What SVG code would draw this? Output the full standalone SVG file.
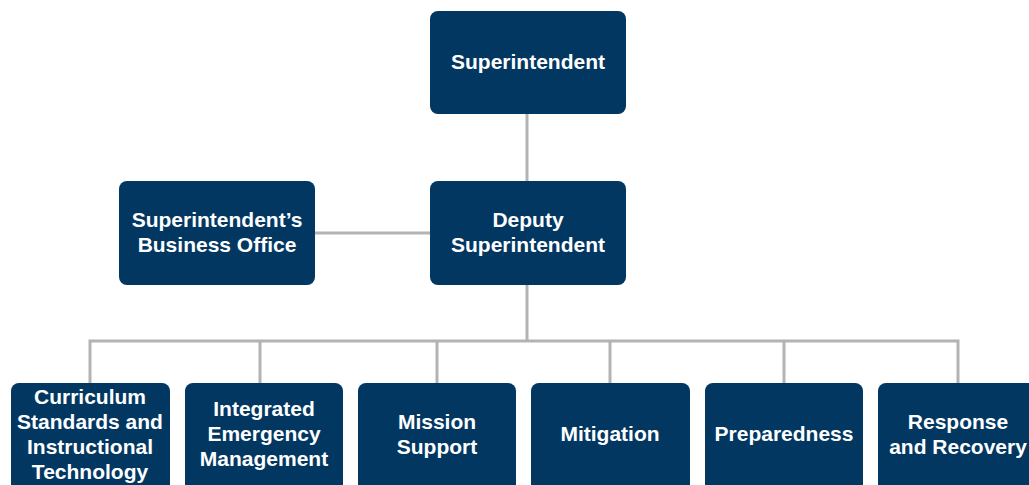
<svg xmlns="http://www.w3.org/2000/svg" width="1029" height="485" viewBox="0 0 1029 485">
<style>
.box{fill:#023762;}
.lbl{font-family:"Liberation Sans",Arial,sans-serif;font-weight:bold;font-size:21px;fill:#ffffff;text-anchor:middle;}
.ln{stroke:#b3b3b3;stroke-width:3;fill:none;}
</style>
<rect width="1029" height="485" fill="#ffffff"/>
<g id="connectors">
<path class="ln" d="M527,114 V181"/>
<path class="ln" d="M315,233 H430"/>
<path class="ln" d="M527,285 V341"/>
<path class="ln" d="M90,383 V341 H958 V383"/>
<path class="ln" d="M260,341 V383"/>
<path class="ln" d="M437,341 V383"/>
<path class="ln" d="M610,341 V383"/>
<path class="ln" d="M784,341 V383"/>
</g>
<g id="superintendent">
<rect class="box" x="430" y="11" width="196" height="103" rx="8"/>
<text class="lbl" x="528" y="69">Superintendent</text>
</g>
<g id="deputy">
<rect class="box" x="430" y="181" width="196" height="104" rx="8"/>
<text class="lbl" x="528" y="227">Deputy</text>
<text class="lbl" x="528" y="252">Superintendent</text>
</g>
<g id="business-office">
<rect class="box" x="119" y="181" width="196" height="104" rx="8"/>
<text class="lbl" x="217" y="227">Superintendent’s</text>
<text class="lbl" x="217" y="252">Business Office</text>
</g>
<g id="curriculum">
<rect class="box" x="11" y="383" width="159" height="110" rx="8"/>
<text class="lbl" x="90" y="404">Curriculum</text>
<text class="lbl" x="90" y="429">Standards and</text>
<text class="lbl" x="90" y="454">Instructional</text>
<text class="lbl" x="90" y="479">Technology</text>
</g>
<g id="integrated">
<rect class="box" x="185" y="383" width="158" height="110" rx="8"/>
<text class="lbl" x="264" y="416">Integrated</text>
<text class="lbl" x="264" y="441">Emergency</text>
<text class="lbl" x="264" y="466">Management</text>
</g>
<g id="mission">
<rect class="box" x="358" y="383" width="158" height="110" rx="8"/>
<text class="lbl" x="437" y="429">Mission</text>
<text class="lbl" x="437" y="454">Support</text>
</g>
<g id="mitigation">
<rect class="box" x="531" y="383" width="159" height="110" rx="8"/>
<text class="lbl" x="610" y="441">Mitigation</text>
</g>
<g id="preparedness">
<rect class="box" x="705" y="383" width="158" height="110" rx="8"/>
<text class="lbl" x="784" y="441">Preparedness</text>
</g>
<g id="response">
<rect class="box" x="878" y="383" width="160" height="110" rx="8"/>
<text class="lbl" x="958" y="429">Response</text>
<text class="lbl" x="958" y="454">and Recovery</text>
</g>
</svg>
